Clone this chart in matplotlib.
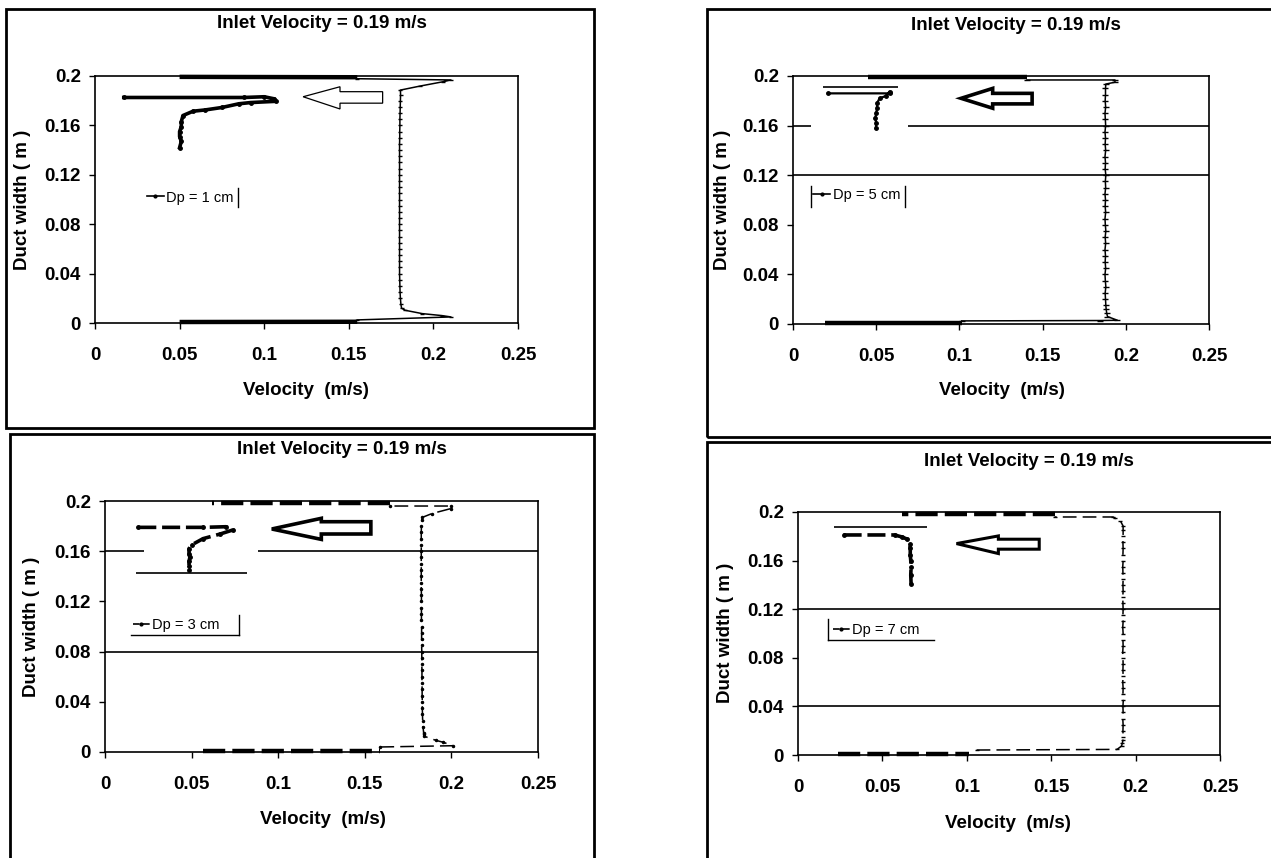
import matplotlib
matplotlib.use("Agg")
import matplotlib.pyplot as plt
from matplotlib.patches import Rectangle, Polygon
from matplotlib.lines import Line2D

plt.rcParams['font.family'] = ['Liberation Sans', 'DejaVu Sans']

# ---------------- text ----------------
title_text = "Inlet Velocity = 0.19 m/s"
xlabel_text = "Velocity  (m/s)"
ylabel_text = "Duct width ( m )"
x_ticks = [0, 0.05, 0.1, 0.15, 0.2, 0.25]
x_tick_labels = ["0", "0.05", "0.1", "0.15", "0.2", "0.25"]
y_ticks = [0, 0.04, 0.08, 0.12, 0.16, 0.2]
y_tick_labels = ["0", "0.04", "0.08", "0.12", "0.16", "0.2"]
legend_labels = ["Dp = 1 cm", "Dp = 5 cm", "Dp = 3 cm", "Dp = 7 cm"]

# ---------------- data ----------------
# duct-width positions of the core of the velocity profile (m)
y_core = [0.015, 0.020, 0.025, 0.030, 0.035, 0.040, 0.045, 0.050, 0.055, 0.060,
          0.065, 0.070, 0.075, 0.080, 0.085, 0.090, 0.095, 0.100, 0.105, 0.110,
          0.115, 0.120, 0.125, 0.130, 0.135, 0.140, 0.145, 0.150, 0.155, 0.160,
          0.165, 0.170, 0.175, 0.180, 0.185]

# ---- Dp = 1 cm ----
p1_core_v = [0.1808, 0.1805, 0.1803, 0.1802, 0.1801, 0.1800, 0.1800, 0.1800, 0.1800, 0.1800,
             0.1800, 0.1800, 0.1800, 0.1800, 0.1800, 0.1800, 0.1800, 0.1800, 0.1800, 0.1800,
             0.1800, 0.1800, 0.1800, 0.1800, 0.1800, 0.1800, 0.1800, 0.1801, 0.1801, 0.1802,
             0.1802, 0.1803, 0.1804, 0.1805, 0.1806]
p1_low_v = [0.155, 0.2104, 0.2050, 0.1934, 0.1833, 0.1812]
p1_low_y = [0.0025, 0.0049, 0.0060, 0.0076, 0.0103, 0.0120]
p1_top_v = [0.1805, 0.1923, 0.2059, 0.2104, 0.155]
p1_top_y = [0.1886, 0.1919, 0.1954, 0.1968, 0.1978]
p1_wall_bot_v = [0.050, 0.155]
p1_wall_bot_y = [0.0008, 0.0010]
p1_wall_top_v = [0.155, 0.050]
p1_wall_top_y = [0.1990, 0.1993]
p1_near_v = [0.017, 0.088, 0.100, 0.106, 0.107, 0.092, 0.085, 0.075, 0.065, 0.058,
             0.052, 0.051, 0.051, 0.050, 0.050, 0.051, 0.050]
p1_near_y = [0.1826, 0.1826, 0.1832, 0.1815, 0.1795, 0.1785, 0.1775, 0.1745, 0.1725, 0.1715,
             0.1680, 0.1630, 0.1590, 0.1550, 0.1510, 0.1470, 0.1420]
p1_arrow_v = [0.123, 0.1448, 0.1448, 0.170, 0.170, 0.1448, 0.1448]
p1_arrow_y = [0.1832, 0.1913, 0.1873, 0.1873, 0.1780, 0.1780, 0.1733]

# ---- Dp = 5 cm ----
p2_core_v = [0.1880, 0.1878, 0.1876, 0.1880, 0.1877, 0.1875, 0.1879, 0.1876, 0.1878, 0.1875,
             0.1879, 0.1876, 0.1880, 0.1877, 0.1875, 0.1879, 0.1876, 0.1878, 0.1875, 0.1879,
             0.1877, 0.1880, 0.1876, 0.1878, 0.1875, 0.1879, 0.1876, 0.1878, 0.1875, 0.1879,
             0.1877, 0.1875, 0.1879, 0.1876, 0.1878]
p2_low_v = [0.1014, 0.1845, 0.1950, 0.1890, 0.1885, 0.1882]
p2_low_y = [0.0025, 0.0028, 0.0030, 0.0060, 0.0090, 0.0120]
p2_top_v = [0.1878, 0.1880, 0.1935, 0.1935, 0.1406]
p2_top_y = [0.1900, 0.1935, 0.1950, 0.1968, 0.1968]
p2_wall_bot_v = [0.019, 0.1014]
p2_wall_bot_y = [0.0010, 0.0010]
p2_wall_top_v = [0.1406, 0.045]
p2_wall_top_y = [0.1994, 0.1994]
p2_near_v = [0.021, 0.058, 0.058, 0.056, 0.052, 0.0505, 0.0505, 0.0500, 0.0495, 0.0500, 0.0498]
p2_near_y = [0.1860, 0.1860, 0.1875, 0.1840, 0.1820, 0.1780, 0.1740, 0.1700, 0.1660, 0.1620, 0.1580]
p2_arrow_v = [0.101, 0.120, 0.120, 0.1437, 0.1437, 0.120, 0.120]
p2_arrow_y = [0.1820, 0.1900, 0.1860, 0.1860, 0.1775, 0.1775, 0.1740]

# ---- Dp = 3 cm ----
p3_core_v = [0.1840, 0.1836, 0.1834, 0.1833, 0.1832, 0.1832, 0.1831, 0.1831, 0.1830, 0.1830,
             0.1830, 0.1829, 0.1829, 0.1829, 0.1828, 0.1828, 0.1828, 0.1828, 0.1827, 0.1827,
             0.1827, 0.1827, 0.1827, 0.1826, 0.1826, 0.1826, 0.1826, 0.1826, 0.1826, 0.1826,
             0.1826, 0.1826, 0.1826, 0.1827, 0.1829]
p3_low_v = [0.159, 0.2009, 0.1954, 0.1910, 0.1844, 0.1842]
p3_low_y = [0.0040, 0.0050, 0.0077, 0.0093, 0.0125, 0.0140]
p3_top_v = [0.1833, 0.1888, 0.1998, 0.1998, 0.1645]
p3_top_y = [0.1870, 0.1900, 0.1940, 0.1960, 0.1960]
p3_wall_bot_v = [0.0566, 0.159]
p3_wall_bot_y = [0.0008, 0.0008]
p3_wall_top_v = [0.1645, 0.062]
p3_wall_top_y = [0.1987, 0.1987]
p3_near_v = [0.0192, 0.0566, 0.0698, 0.0740, 0.0665, 0.0566, 0.0500, 0.0485, 0.0485, 0.0490,
             0.0485, 0.0485, 0.0485]
p3_near_y = [0.1790, 0.1790, 0.1795, 0.1770, 0.1737, 0.1700, 0.1650, 0.1620, 0.1580, 0.1550,
             0.1520, 0.1480, 0.1450]
p3_arrow_v = [0.0963, 0.1249, 0.1249, 0.1535, 0.1535, 0.1249, 0.1249]
p3_arrow_y = [0.1777, 0.1862, 0.1835, 0.1835, 0.1737, 0.1737, 0.1694]

# ---- Dp = 7 cm ----
p4_core_v = [0.1926, 0.1925, 0.1926, 0.1924, 0.1926, 0.1925, 0.1927, 0.1925, 0.1926, 0.1924,
             0.1926, 0.1925, 0.1926, 0.1925, 0.1924, 0.1926, 0.1925, 0.1926, 0.1924, 0.1926,
             0.1925, 0.1926, 0.1925, 0.1924, 0.1926, 0.1925, 0.1926, 0.1925, 0.1924, 0.1926,
             0.1925, 0.1926, 0.1925, 0.1926, 0.1926]
p4_low_v = [0.1058, 0.1890, 0.1917, 0.1921, 0.1925]
p4_low_y = [0.0041, 0.0046, 0.0074, 0.0096, 0.0120]
p4_top_v = [0.1926, 0.1910, 0.1878, 0.1867, 0.152]
p4_top_y = [0.1885, 0.1926, 0.1948, 0.1959, 0.1959]
p4_wall_bot_v = [0.0237, 0.1015]
p4_wall_bot_y = [0.0008, 0.0008]
p4_wall_top_v = [0.152, 0.0615]
p4_wall_top_y = [0.1981, 0.1981]
p4_near_v = [0.027, 0.0572, 0.0615, 0.0648, 0.0662, 0.0665, 0.0665, 0.0668, 0.0670, 0.0668, 0.0670]
p4_near_y = [0.1811, 0.1811, 0.1795, 0.1776, 0.1740, 0.1700, 0.1650, 0.1600, 0.1550, 0.1480, 0.1407]
p4_arrow_v = [0.0939, 0.1187, 0.1187, 0.1429, 0.1429, 0.1187, 0.1187]
p4_arrow_y = [0.1740, 0.1803, 0.1776, 0.1776, 0.1694, 0.1694, 0.1658]

# ---------------- layout (pixels of the 1271x858 canvas) ----------------
W, H = 1271, 858
fig = plt.figure(figsize=(W / 100, H / 100), dpi=100)

def fx(px):
    return px / W

def fy(py):
    return 1 - py / H

panels = [
    dict(ax=(95, 518, 76, 323), box=(6, 594, 9, 428), title=(322, 24), xlab=(306, 390), ylab=(23, 200),
         core=p1_core_v, low=(p1_low_v, p1_low_y), top=(p1_top_v, p1_top_y),
         wb=(p1_wall_bot_v, p1_wall_bot_y), wt=(p1_wall_top_v, p1_wall_top_y),
         near=(p1_near_v, p1_near_y), arrow=(p1_arrow_v, p1_arrow_y), arrow_lw=0.9,
         dashed=False, marker='_', ms=3, near_lw=2.6, label=legend_labels[0],
         grid=[], leg=(0.0305, 0.1016),
         frame=[((0.0848, 0.0848), (0.094, 0.109))]),
    dict(ax=(793, 1209, 76, 324), box=(707, 1290, 9, 437), title=(1016, 25), xlab=(1002, 390), ylab=(722, 200),
         core=p2_core_v, low=(p2_low_v, p2_low_y), top=(p2_top_v, p2_top_y),
         wb=(p2_wall_bot_v, p2_wall_bot_y), wt=(p2_wall_top_v, p2_wall_top_y),
         near=(p2_near_v, p2_near_y), arrow=(p2_arrow_v, p2_arrow_y), arrow_lw=2.6,
         dashed=False, marker='_', ms=4, near_lw=1.6, label=legend_labels[1],
         grid=[(0.16, 0.0, 0.011), (0.16, 0.069, 0.25), (0.12, 0.0, 0.25), (0.1911, 0.018, 0.063)],
         leg=(0.012, 0.104),
         frame=[((0.0107, 0.0107), (0.0944, 0.1113)), ((0.0673, 0.0673), (0.0944, 0.1113))]),
    dict(ax=(105, 538, 501, 752), box=(10, 594, 434, 870), title=(342, 449), xlab=(323, 820), ylab=(31, 627),
         core=p3_core_v, low=(p3_low_v, p3_low_y), top=(p3_top_v, p3_top_y),
         wb=(p3_wall_bot_v, p3_wall_bot_y), wt=(p3_wall_top_v, p3_wall_top_y),
         near=(p3_near_v, p3_near_y), arrow=(p3_arrow_v, p3_arrow_y), arrow_lw=2.6,
         dashed=True, marker='.', ms=3, near_lw=2.6, label=legend_labels[2],
         grid=[(0.16, 0.0, 0.0225), (0.16, 0.0885, 0.25), (0.08, 0.0, 0.25), (0.1423, 0.018, 0.082)],
         leg=(0.0159, 0.101),
         frame=[((0.0148, 0.0776), (0.093, 0.093)), ((0.0776, 0.0776), (0.093, 0.1095))]),
    dict(ax=(798, 1220, 512, 755), box=(707, 1290, 442, 870), title=(1029, 462), xlab=(1008, 823), ylab=(725, 633),
         core=p4_core_v, low=(p4_low_v, p4_low_y), top=(p4_top_v, p4_top_y),
         wb=(p4_wall_bot_v, p4_wall_bot_y), wt=(p4_wall_top_v, p4_wall_top_y),
         near=(p4_near_v, p4_near_y), arrow=(p4_arrow_v, p4_arrow_y), arrow_lw=2.2,
         dashed=True, marker='_', ms=2.5, near_lw=2.6, label=legend_labels[3],
         grid=[(0.12, 0.0, 0.25), (0.04, 0.0, 0.25), (0.1877, 0.0216, 0.0766)],
         leg=(0.0205, 0.1025),
         frame=[((0.0177, 0.0177), (0.0943, 0.112)), ((0.0177, 0.0803), (0.0943, 0.0943))]),
]

for p in panels:
    # panel border
    bx0, bx1, by0, by1 = p['box']
    fig.patches.append(Rectangle((fx(bx0), fy(by1)), fx(bx1) - fx(bx0), fy(by0) - fy(by1),
                                 transform=fig.transFigure, fill=False, lw=2.0,
                                 edgecolor='black', clip_on=False))
    x0, x1, y0, y1 = p['ax']
    ax = fig.add_axes([fx(x0), fy(y1), fx(x1) - fx(x0), fy(y0) - fy(y1)])
    ax.set_xlim(0, 0.25)
    ax.set_ylim(0, 0.2)
    ax.set_xticks(x_ticks)
    ax.set_xticklabels(x_tick_labels)
    ax.set_yticks(y_ticks)
    ax.set_yticklabels(y_tick_labels)
    for lab in ax.get_xticklabels() + ax.get_yticklabels():
        lab.set_fontweight('bold')
        lab.set_fontsize(13.5)
    ax.tick_params(axis='x', direction='out', length=4, width=1.0, pad=13)
    ax.tick_params(axis='y', direction='out', length=4, width=1.0, pad=6)
    for s in ax.spines.values():
        s.set_linewidth(1.2)
        s.set_color('black')

    # gridline pieces
    for gy, gx0, gx1 in p['grid']:
        ax.hlines(gy, gx0, gx1, colors='black', lw=1.2, zorder=1)

    ls = (0, (9, 4)) if p['dashed'] else '-'
    ls_thick = (0, (5, 1.6)) if p['dashed'] else '-'

    # main velocity profile
    prof_v = p['low'][0] + p['core'] + p['top'][0]
    prof_y = p['low'][1] + y_core + p['top'][1]
    ax.plot(prof_v, prof_y, color='black', lw=1.1, linestyle=ls, marker=p['marker'],
            ms=p['ms'], mew=1.0, clip_on=False, zorder=3)
    ax.plot(p['wb'][0], p['wb'][1], color='black', lw=3.2, linestyle=ls_thick,
            solid_capstyle='butt', clip_on=False, zorder=3)
    ax.plot(p['wt'][0], p['wt'][1], color='black', lw=3.2, linestyle=ls_thick,
            solid_capstyle='butt', clip_on=False, zorder=3)
    # profile near the particle
    ax.plot(p['near'][0], p['near'][1], color='black', lw=p['near_lw'], linestyle=ls_thick,
            marker='o', ms=2.5, zorder=3)

    # flow-direction arrow
    ax.add_patch(Polygon(list(zip(p['arrow'][0], p['arrow'][1])), closed=True,
                         facecolor='white', edgecolor='black', lw=p['arrow_lw'], zorder=4))

    # legend
    handle = Line2D([], [], color='black', lw=1.2,
                    linestyle=(0, (4, 2)) if p['dashed'] else '-',
                    marker='.', ms=4)
    ax.legend([handle], [p['label']], loc='center left',
              bbox_to_anchor=p['leg'], bbox_transform=ax.transData,
              frameon=False, handlelength=1.2, handletextpad=0.15,
              borderpad=0, borderaxespad=0, prop={'size': 10.5})
    for (fxs, fys) in p['frame']:
        ax.plot(fxs, fys, color='black', lw=1.0)

    # texts
    tx, ty = p['title']
    fig.text(fx(tx), fy(ty), title_text, ha='center', va='center',
             fontsize=13.5, fontweight='bold')
    lx, ly = p['xlab']
    fig.text(fx(lx), fy(ly), xlabel_text, ha='center', va='center',
             fontsize=13.5, fontweight='bold')
    yx, yy = p['ylab']
    fig.text(fx(yx), fy(yy), ylabel_text, ha='center', va='center',
             rotation=90, fontsize=13.5, fontweight='bold')

fig.savefig("out.png", dpi=100)
